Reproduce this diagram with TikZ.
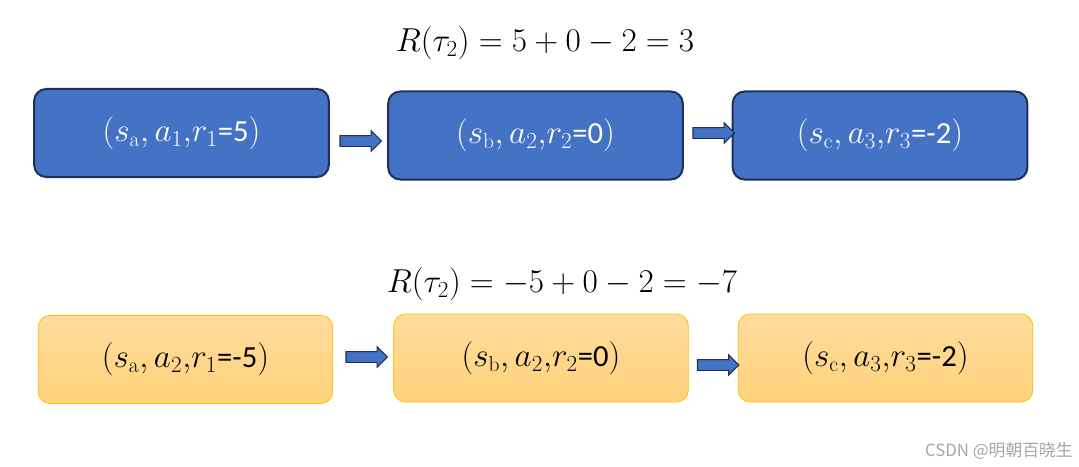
\documentclass[tikz,border=0pt]{standalone}
\usepackage{fontspec}
\usetikzlibrary{shapes.arrows}
\newfontfamily\carlito{Carlito}
\newfontfamily\cjk{Noto Sans CJK SC}
\definecolor{bluefill}{HTML}{4472C4}
\definecolor{blueedge}{HTML}{1F2F5A}
\definecolor{yeltop}{HTML}{FFDC9E}
\definecolor{yelbot}{HTML}{FFD27A}
\definecolor{yeledge}{HTML}{FFC000}
\tikzset{
  bluebox/.style={draw=blueedge, line width=1.5pt, fill=bluefill, rounded corners=9pt,
    minimum width=221pt, minimum height=66pt, text=white, font=\fontsize{23}{26}\selectfont, inner sep=0pt},
  yelbox/.style={draw=yeledge, line width=0.6pt, top color=yeltop, bottom color=yelbot, rounded corners=9pt,
    minimum width=221pt, minimum height=66pt, text=black, font=\fontsize{23}{26}\selectfont, inner sep=0pt},
  blockarrow/.style={single arrow, draw=blueedge, fill=bluefill, line width=0.8pt,
    minimum width=15pt, single arrow head extend=3.6pt, single arrow head indent=0pt,
    minimum height=31pt, inner sep=3.6pt},
  title/.style={font=\fontsize{24}{28}\selectfont, text=black},
}
\begin{document}
\begin{tikzpicture}[x=0.75pt,y=-0.75pt]
\useasboundingbox (0,0) rectangle (1079,467);
% titles
\node[title] (t1) at (545,43) {$R(\tau_2) = 5 + 0 - 2 = 3$};
\node[title] (t2) at (562,284) {$R(\tau_2) = -5 + 0 - 2 = -7$};
% top row
\node[bluebox] (a1) at (181.5,133) {$(s_{\mathrm{a}}, a_1,\!r_1${\carlito =5}$)$};
\node[bluebox] (a2) at (535.5,135.5) {$(s_{\mathrm{b}}, a_2,\!r_2${\carlito =0}$)$};
\node[bluebox] (a3) at (880,135.5) {$(s_{\mathrm{c}}, a_3,\!r_3${\carlito =-2}$)$};
% bottom row
\node[yelbox] (b1) at (185.5,359.5) {$(s_{\mathrm{a}}, a_2,\!r_1${\carlito =-5}$)$};
\node[yelbox] (b2) at (541,358) {$(s_{\mathrm{b}}, a_2,\!r_2${\carlito =0}$)$};
\node[yelbox] (b3) at (885.5,358) {$(s_{\mathrm{c}}, a_3,\!r_3${\carlito =-2}$)$};
% arrows
\node[blockarrow] (p1) at (358,141) {};
\node[blockarrow] (p2) at (711,133) {};
\node[blockarrow] (q1) at (364,357) {};
\node[blockarrow] (q2) at (715.5,365) {};
% watermark
\node[anchor=east, text=black!35, font=\cjk\fontsize{12.6}{15}\selectfont, inner sep=0pt] (wm) at (1073,451) {CSDN @明朝百晓生};
\end{tikzpicture}
\end{document}
